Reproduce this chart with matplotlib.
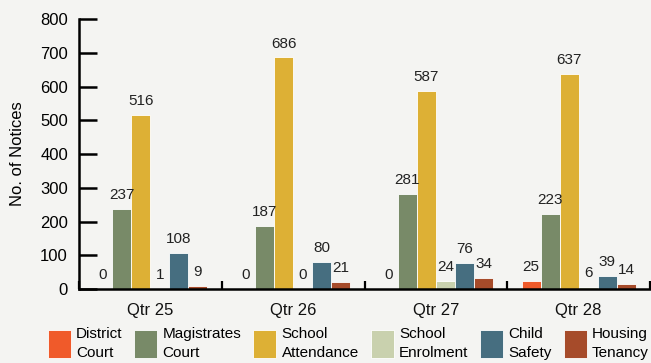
import matplotlib
matplotlib.use("Agg")
import matplotlib.pyplot as plt
import numpy as np
from matplotlib.ticker import FixedLocator

plt.rcParams['font.family'] = ['Liberation Sans', 'DejaVu Sans']

quarters = ["Qtr 25", "Qtr 26", "Qtr 27", "Qtr 28"]
series_names = ["District\nCourt", "Magistrates\nCourt", "School\nAttendance",
                "School\nEnrolment", "Child\nSafety", "Housing\nTenancy"]
district_court = [0, 0, 0, 25]
magistrates_court = [237, 187, 281, 223]
school_attendance = [516, 686, 587, 637]
school_enrolment = [1, 0, 24, 6]
child_safety = [108, 80, 76, 39]
housing_tenancy = [9, 21, 34, 14]
y_ticks = [0, 100, 200, 300, 400, 500, 600, 700, 800]

series = [district_court, magistrates_court, school_attendance,
          school_enrolment, child_safety, housing_tenancy]
colors = ["#F05A2A", "#788A68", "#DDB035", "#C9D1AE", "#466E80", "#A64B2A"]
bg = "#F4F4F2"

fig = plt.figure(figsize=(6.51, 3.63), dpi=100, facecolor=bg)
ax = fig.add_axes([79/651, 1-289/363, 571/651, 270/363])
ax.set_facecolor(bg)

x = np.arange(len(quarters))
n = len(series)
w = 0.8 / n
handles = []
for i, (vals, c, name) in enumerate(zip(series, colors, series_names)):
    pos = x - 0.4 + w * (i + 0.5)
    bars = ax.bar(pos, vals, width=w, color=c, edgecolor="white", linewidth=0.6, label=name)
    ax.bar_label(bars, labels=[str(v) for v in vals], padding=5, fontsize=11, color="#222222")
    handles.append(bars)

ax.set_xlim(-0.5, len(quarters) - 0.5)
ax.set_ylim(0, 800)
ax.set_yticks(y_ticks)
ax.set_xticks(x)
ax.set_xticklabels(quarters, fontsize=12)
ax.xaxis.set_minor_locator(FixedLocator(np.arange(-0.5, len(quarters), 1.0)))
ax.tick_params(axis='x', which='major', length=0, pad=10, colors="#111111")
ax.tick_params(axis='x', which='minor', direction='in', length=6, width=1.6, color="black")
ax.tick_params(axis='y', which='major', direction='in', length=13, width=1.8, pad=8,
               labelsize=12, color="black")
for s in ["top", "right"]:
    ax.spines[s].set_visible(False)
for s in ["left", "bottom"]:
    ax.spines[s].set_linewidth(1.8)
    ax.spines[s].set_color("black")

ax.set_ylabel("No. of Notices", fontsize=12, labelpad=11)

leg = fig.legend(handles=handles, labels=series_names, loc='upper center',
                 bbox_to_anchor=(0.535, 1 - 327/363), ncol=6, frameon=False,
                 fontsize=11, handlelength=1.5, handleheight=2.4,
                 handletextpad=0.35, columnspacing=0.78, borderpad=0, borderaxespad=0)
for t in leg.get_texts():
    t.set_linespacing(1.45)

fig.savefig("out.png", dpi=100, facecolor=bg)
